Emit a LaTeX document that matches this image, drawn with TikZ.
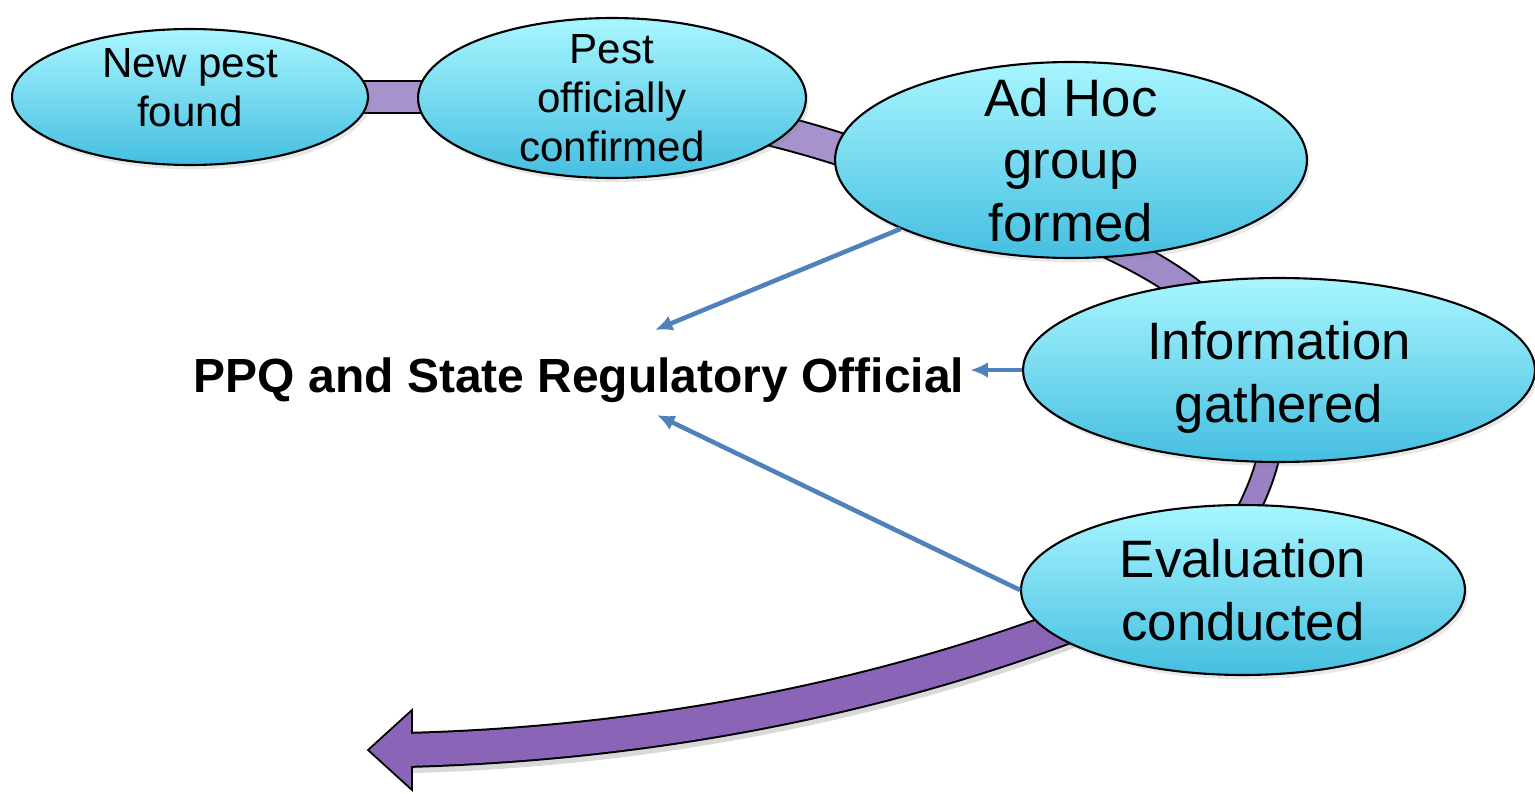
\documentclass[tikz,border=0pt]{standalone}
\usepackage{fontspec}
\setmainfont{Liberation Sans}
\usepackage{xcolor}
\usepackage{tikz}
\usetikzlibrary{shapes.geometric, arrows.meta, shadows}

\definecolor{cianoalto}{HTML}{A8F6FF}
\definecolor{cianobasso}{HTML}{45BEE0}
\definecolor{viola1}{HTML}{A793CB}
\definecolor{viola2}{HTML}{A18AC8}
\definecolor{viola3}{HTML}{9B80C4}
\definecolor{viola4}{HTML}{8A64B6}
\definecolor{frecciablu}{HTML}{4F81BD}

\begin{document}
\begin{tikzpicture}[
				      x=0.02cm, y=-0.02cm,
				      fase/.style={
						      ellipse, draw=black, line width=1.2pt,
						      top color=cianoalto,
						      bottom color=cianobasso,
						      inner sep=0pt,
						      drop shadow={shadow xshift=1.5pt, shadow yshift=-2.5pt, opacity=0.18}
					      },
				      testo piccolo/.style={align=center, font=\fontsize{24}{28}\selectfont},
				      testo grande/.style={align=center, font=\fontsize{30}{35.5}\selectfont},
				      ente/.style={font=\fontsize{27.3}{32}\selectfont\bfseries},
				      freccia/.style={draw=frecciablu, line width=2.6pt, -{Latex[length=10pt,width=9pt]}}
			      ]
			      \useasboundingbox (0,0) rectangle (1535,794);

			      % nastro viola dietro le ellissi
			      \draw[line width=0.68cm] (330,97) -- (450,97) .. controls (620,97) and (760,110) .. (950,190);
			      \draw[viola1, line width=0.60cm] (330,97) -- (450,97) .. controls (620,97) and (760,110) .. (950,190);
			      \draw[line width=0.60cm] (950,190) .. controls (1100,230) and (1210,280) .. (1260,370);
			      \draw[viola2, line width=0.52cm] (950,190) .. controls (1100,230) and (1210,280) .. (1260,370);
			      \draw[line width=0.48cm] (1260,370) .. controls (1285,430) and (1270,480) .. (1220,560);
			      \draw[viola3, line width=0.40cm] (1260,370) .. controls (1285,430) and (1270,480) .. (1220,560);
			      \draw[black, opacity=0.15, line width=0.72cm, yshift=-3pt] (1220,560) .. controls (1080,630) and (800,740) .. (405,750);
			      \draw[line width=0.72cm] (1220,560) .. controls (1080,630) and (800,740) .. (405,750);
			      \draw[fill=viola4, line width=1pt, line join=miter] (368,750) -- (412,710) -- (412,790) -- cycle;
			      \draw[viola4, line width=0.64cm] (1220,560) .. controls (1080,630) and (800,740) .. (405,750);

			      \node[fase, minimum width=7.12cm, minimum height=2.72cm,
				      label={[testo piccolo, yshift=5.4pt]center:{New pest\\found}}] (trovato) at (190,97) {};
			      \node[fase, minimum width=7.76cm, minimum height=3.2cm,
				      label={[testo piccolo]center:{Pest\\officially\\confirmed}}] (confermato) at (612,98) {};
			      \node[fase, minimum width=9.44cm, minimum height=3.92cm,
				      label={[testo grande]center:{Ad Hoc\\group\\formed}}] (gruppo) at (1071,160) {};
			      \node[fase, minimum width=10.24cm, minimum height=3.68cm,
				      label={[testo grande, yshift=-4.2pt]center:{Information\\gathered}}] (info) at (1279,370) {};
			      \node[fase, minimum width=8.88cm, minimum height=3.4cm,
				      label={[testo grande]center:{Evaluation\\conducted}}] (valutazione) at (1243,590) {};

			      \node[ente, anchor=base] (ppq) at (579,392) {PPQ and State Regulatory Official};
			      \coordinate (ppq sopra) at (655,330);
			      \coordinate (ppq sotto) at (657,415);

			      \draw[freccia] (gruppo.202) -- (ppq sopra);
			      \draw[freccia] (info.west) -- (info.west -| ppq.east);
			      \draw[freccia] (valutazione.west) -- (ppq sotto);
		      \end{tikzpicture}
\end{document}
